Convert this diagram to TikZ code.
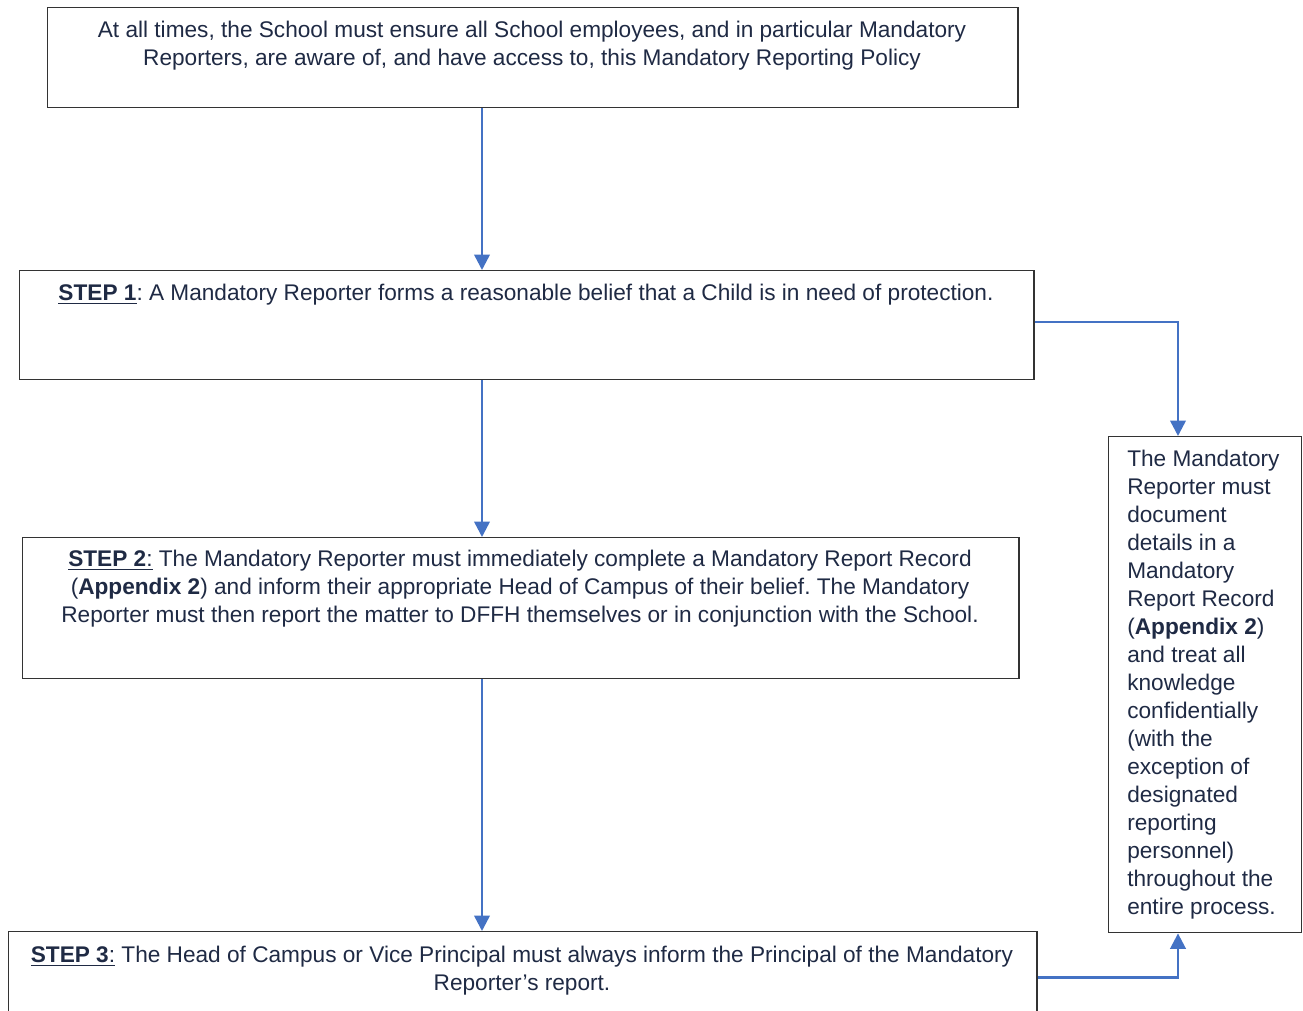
\documentclass[tikz,border=0pt]{standalone}
\usepackage{fontspec}
\setmainfont{Liberation Sans}
\usetikzlibrary{arrows.meta, positioning, calc}
\definecolor{flowblue}{HTML}{4472C4}
\definecolor{flowtext}{HTML}{1F2A44}
\definecolor{flowframe}{HTML}{333333}
\frenchspacing

\begin{document}
\begin{tikzpicture}[
    x=0.025cm, y=-0.025cm,
    stepbox/.style={rectangle, draw=flowframe, line width=0.9pt, inner sep=0pt, anchor=north west},
    steptext/.style={font=\fontsize{16.1}{19.9}\selectfont, text=flowtext, align=center, inner sep=0pt, anchor=north},
    sidetext/.style={steptext, align=left, anchor=north west},
    arrow/.style={-{Triangle[length=11pt, width=11pt]}, draw=flowblue, line width=1.8pt},
]
  \useasboundingbox (0,0) rectangle (1303,1011);

  % Policy awareness
  \node[stepbox, minimum width=24.25cm, minimum height=2.5cm] (policy) at (47,7) {};
  \node[steptext] (policytext) at (532,21) {At all times, the School must ensure all School employees, and in particular Mandatory\\Reporters, are aware of, and have access to, this Mandatory Reporting Policy};

  % Step 1
  \node[stepbox, minimum width=25.35cm, minimum height=2.725cm] (step1) at (19,270) {};
  \node[steptext] (step1text) at (526,284) {\underline{\textbf{STEP 1}}: A Mandatory Reporter forms a reasonable belief that a Child is in need of protection.};

  % Step 2
  \node[stepbox, minimum width=24.9cm, minimum height=3.525cm] (step2) at (22,537) {};
  \node[steptext] (step2text) at (520,550) {\underline{\textbf{STEP 2}:} The Mandatory Reporter must immediately complete a Mandatory Report Record\\(\textbf{Appendix 2}) and inform their appropriate Head of Campus of their belief. The Mandatory\\Reporter must then report the matter to DFFH themselves or in conjunction with the School.};

  % Step 3
  \node[stepbox, minimum width=25.7cm, minimum height=2.3cm] (step3) at (8,931) {};
  \node[steptext] (step3text) at (522,946) {\underline{\textbf{STEP 3}:} The Head of Campus or Vice Principal must always inform the Principal of the Mandatory\\Reporter’s report.};

  % Side note on record keeping
  \node[stepbox, minimum width=4.825cm, minimum height=12.4cm] (record) at (1108,436) {};
  \node[sidetext] (recordtext) at (1127,450) {The Mandatory\\Reporter must\\document\\details in a\\Mandatory\\Report Record\\(\textbf{Appendix 2})\\and treat all\\knowledge\\confidentially\\(with the\\exception of\\designated\\reporting\\personnel)\\throughout the\\entire process.};

  % Arrows
  \coordinate (lane) at (482,0);
  \coordinate (sidelane) at (1178,0);
  \draw[arrow] (policy.south -| lane) -- (step1.north -| lane);
  \draw[arrow] (step1.south -| lane) -- (step2.north -| lane);
  \draw[arrow] (step2.south -| lane) -- (step3.north -| lane);
  \draw[arrow] ($(step1.east)+(0,-3)$) -| (record.north -| sidelane);
  \draw[arrow] (step3.east) -| (record.south -| sidelane);
\end{tikzpicture}
\end{document}
